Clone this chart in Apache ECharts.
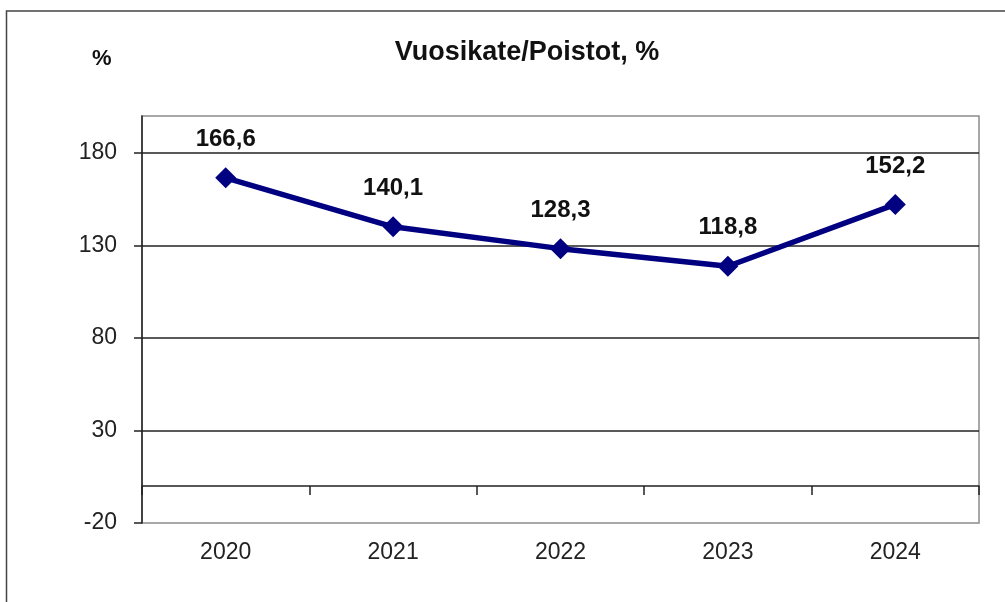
<!DOCTYPE html>
<html>
<head>
<meta charset="utf-8">
<script src="https://cdn.jsdelivr.net/npm/echarts@6/dist/echarts.min.js"></script>
<style>
  html, body { margin: 0; padding: 0; background: #fff; }
  #chart { width: 1005px; height: 602px; }
</style>
</head>
<body>
<div id="chart"></div>
<script>
// vuodet ja tunnusluku
var years = ['2020', '2021', '2022', '2023', '2024'];
var ratio = [166.6, 140.1, 128.3, 118.8, 152.2];
var yTicks = [-20, 30, 80, 130, 180];

var font = 'Liberation Sans, Arial, sans-serif';
var chart = echarts.init(document.getElementById('chart'));

var option = {
  backgroundColor: '#fff',
  animation: false,
  textStyle: { fontFamily: font },
  title: {
    text: 'Vuosikate/Poistot, %',
    left: 522,
    textAlign: 'center',
    top: 34,
    textStyle: { fontSize: 27, fontWeight: 'bold', color: '#111', fontFamily: font }
  },
  graphic: [
    { // ulkoreunus
      type: 'rect', silent: true,
      shape: { x: 6.5, y: 11, width: 1020, height: 620 },
      style: { fill: null, stroke: '#444', lineWidth: 1.5 }
    },
    {
      type: 'text', left: 92, top: 48,
      style: { text: '%', fontSize: 22, fontWeight: 'bold', fill: '#111', fontFamily: font }
    }
  ],
  grid: {
    left: 142, right: 26, top: 116, bottom: 79,
    show: true, borderColor: '#8c8c8c', borderWidth: 1.5, backgroundColor: 'transparent'
  },
  xAxis: {
    type: 'category',
    data: years,
    boundaryGap: true,
    axisLine: { onZero: true, lineStyle: { color: '#222', width: 1.5 } },
    axisTick: { show: true, length: 9, inside: false, lineStyle: { color: '#222', width: 1.5 } },
    axisLabel: { margin: 18, fontSize: 23, color: '#222', fontFamily: font },
    splitLine: { show: false }
  },
  yAxis: {
    type: 'value',
    min: -20, max: 200, interval: 50,
    axisLine: { show: true, lineStyle: { color: '#222', width: 1.5 } },
    axisTick: { show: true, length: 8, customValues: yTicks, lineStyle: { color: '#222', width: 1.5 } },
    axisLabel: { margin: 25, fontSize: 23, color: '#222', fontFamily: font, customValues: yTicks },
    splitLine: {
      show: true, showMinLine: false, showMaxLine: true,
      lineStyle: { color: '#222', width: 1.5 }
    }
  },
  series: [{
    type: 'line',
    data: ratio,
    symbol: 'diamond',
    symbolSize: 21,
    itemStyle: { color: '#000080' },
    lineStyle: { color: '#000080', width: 5.5 },
    label: {
      show: true, position: 'top', distance: 16,
      fontSize: 24, fontWeight: 'bold', color: '#111', fontFamily: font,
      formatter: function (p) { return p.value.toFixed(1).replace('.', ','); }
    },
    z: 5
  }]
};

chart.setOption(option);
</script>
</body>
</html>
